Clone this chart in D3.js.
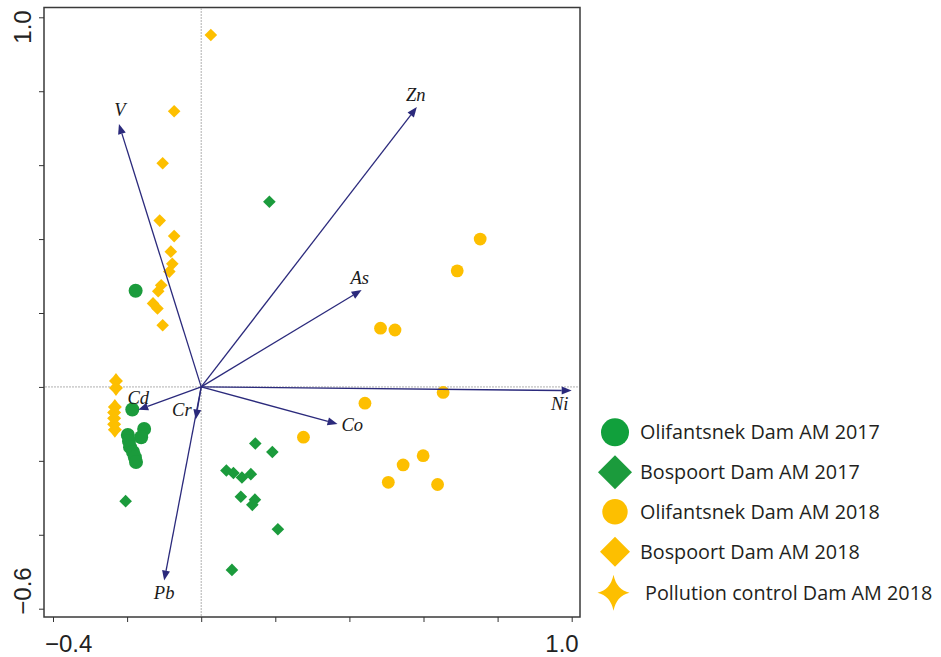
<!DOCTYPE html>
<html>
<head>
<meta charset="utf-8">
<script src="https://cdn.jsdelivr.net/npm/d3@7/dist/d3.min.js"></script>
<style>
  body { margin: 0; background: #fff; }
  svg { display: block; }
</style>
</head>
<body>
<svg id="chart" width="941" height="657"></svg>
<script>
// sample scores
var olif2017 = [[-0.177,0.260],[-0.186,-0.061],[-0.154,-0.114],[-0.162,-0.136],[-0.198,-0.130],
  [-0.195,-0.146],[-0.192,-0.163],[-0.184,-0.176],[-0.179,-0.190],[-0.176,-0.203]];
var bosp2017 = [[0.184,0.501],[0.146,-0.153],[0.192,-0.176],[0.068,-0.226],[0.087,-0.233],
  [0.110,-0.245],[0.134,-0.236],[0.107,-0.297],[0.145,-0.305],[0.138,-0.319],[0.207,-0.385],
  [0.083,-0.495],[-0.204,-0.309]];
var olif2018 = [[0.753,0.400],[0.691,0.314],[0.484,0.159],[0.523,0.154],[0.653,-0.015],
  [0.442,-0.044],[0.276,-0.136],[0.599,-0.186],[0.545,-0.211],[0.505,-0.258],[0.638,-0.264]];
var bosp2018 = [[0.026,0.952],[-0.073,0.746],[-0.104,0.605],[-0.112,0.450],[-0.073,0.408],
  [-0.082,0.366],[-0.078,0.333],[-0.086,0.312],[-0.108,0.275],[-0.116,0.259],[-0.130,0.226],
  [-0.118,0.212],[-0.104,0.167]];
var pollution2018 = [[-0.230,0.016],[-0.230,-0.003],[-0.233,-0.054],[-0.235,-0.069],
  [-0.235,-0.085],[-0.235,-0.101],[-0.233,-0.116]];

// element vectors
var vecNames = ["V","Zn","As","Ni","Co","Cd","Cr","Pb"];
var vecX = [-0.222, 0.582, 0.433, 1.000, 0.368, -0.170, -0.015, -0.100];
var vecY = [0.711, 0.757, 0.262, -0.010, -0.100, -0.062, -0.088, -0.524];

var xTicks = [-0.4,-0.2,0,0.2,0.4,0.6,0.8,1.0];
var yTicks = [-0.6,-0.4,-0.2,0,0.2,0.4,0.6,0.8,1.0];

var legendNames = ["Olifantsnek Dam AM 2017","Bospoort Dam AM 2017","Olifantsnek Dam AM 2018",
  "Bospoort Dam AM 2018","Pollution control Dam AM 2018"];

var green = "#1b9b3c", gold = "#fdbf00", navy = "#2b2a7c";

var svg = d3.select("#chart");
var x = d3.scaleLinear().domain([-0.4, 1.0]).range([53, 571.7]);
var y = d3.scaleLinear().domain([-0.6, 1.0]).range([608.7, 17.3]);

// frame
svg.append("rect").attr("x", 44).attr("y", 7.5).attr("width", 536).attr("height", 609.5)
  .attr("fill", "none").attr("stroke", "#3a3a3a").attr("stroke-width", 1.5);

// axes (ticks only, outer labels)
var xAxis = d3.axisBottom(x).tickValues(xTicks).tickSize(5).tickFormat("");
svg.append("g").attr("transform", "translate(0,617)").call(xAxis)
  .call(g => g.select(".domain").remove())
  .selectAll("line").attr("stroke", "#333");
var yAxis = d3.axisLeft(y).tickValues(yTicks).tickSize(5).tickFormat("");
svg.append("g").attr("transform", "translate(44,0)").call(yAxis)
  .call(g => g.select(".domain").remove())
  .selectAll("line").attr("stroke", "#333");

var tickFont = "'Liberation Sans', Arial, sans-serif";
svg.append("text").attr("x", x(-0.4) - 8).attr("y", 652).attr("font-family", tickFont)
  .attr("font-size", 24).attr("fill", "#222").text("\u22120.4");
svg.append("text").attr("x", x(1.0) + 7).attr("y", 652).attr("text-anchor", "end")
  .attr("font-family", tickFont).attr("font-size", 24).attr("fill", "#222").text("1.0");
svg.append("text").attr("transform", "translate(31," + (y(1.0) - 7) + ") rotate(-90)")
  .attr("text-anchor", "end").attr("font-family", tickFont).attr("font-size", 24)
  .attr("fill", "#222").text("1.0");
svg.append("text").attr("transform", "translate(31," + (y(-0.6) + 6) + ") rotate(-90)")
  .attr("text-anchor", "start").attr("font-family", tickFont).attr("font-size", 24)
  .attr("fill", "#222").text("\u22120.6");

// zero reference lines
svg.append("line").attr("x1", x(0)).attr("x2", x(0)).attr("y1", 8).attr("y2", 616)
  .attr("stroke", "#b0b0b0").attr("stroke-width", 1).attr("stroke-dasharray", "2,1");
svg.append("line").attr("x1", 45).attr("x2", 579).attr("y1", y(0)).attr("y2", y(0))
  .attr("stroke", "#b0b0b0").attr("stroke-width", 1).attr("stroke-dasharray", "2,1");

// symbols
function diamondPath(r) {
  return "M0," + (-r) + "L" + r + ",0L0," + r + "L" + (-r) + ",0Z";
}
function starPath(R, ry, w) {
  return "M0," + (-ry) + "Q" + w + "," + (-w) + " " + R + ",0Q" + w + "," + w + " 0," + ry +
    "Q" + (-w) + "," + w + " " + (-R) + ",0Q" + (-w) + "," + (-w) + " 0," + (-ry) + "Z";
}

var pts = svg.append("g");
pts.selectAll(".o17").data(olif2017).enter().append("circle")
  .attr("cx", d => x(d[0])).attr("cy", d => y(d[1])).attr("r", 7).attr("fill", green);
pts.selectAll(".b17").data(bosp2017).enter().append("path")
  .attr("d", diamondPath(6.3)).attr("fill", green)
  .attr("transform", d => "translate(" + x(d[0]) + "," + y(d[1]) + ")");
pts.selectAll(".o18").data(olif2018).enter().append("circle")
  .attr("cx", d => x(d[0])).attr("cy", d => y(d[1])).attr("r", 6.4).attr("fill", gold);
pts.selectAll(".b18").data(bosp2018).enter().append("path")
  .attr("d", diamondPath(6.3)).attr("fill", gold)
  .attr("transform", d => "translate(" + x(d[0]) + "," + y(d[1]) + ")");
pts.selectAll(".p18").data(pollution2018).enter().append("path")
  .attr("d", starPath(7, 8, 3.2)).attr("fill", gold)
  .attr("transform", d => "translate(" + x(d[0]) + "," + y(d[1]) + ")");

// arrows
var vecs = vecNames.map((n, i) => ({name: n, x: vecX[i], y: vecY[i]}));
var labelOff = {V:[1,-8,"middle"], Zn:[-1,-6,"middle"], As:[-2,-6,"middle"], Ni:[-12,19,"middle"],
  Co:[4,7,"start"], Cd:[0,-6,"middle"], Cr:[-4,-3,"end"], Pb:[0,18,"middle"]};
var ag = svg.append("g");
vecs.forEach(function(v) {
  var x0 = x(0), y0 = y(0), x1 = x(v.x), y1 = y(v.y);
  var a = Math.atan2(y1 - y0, x1 - x0), L = 10, W = 4;
  var bx = x1 - L * Math.cos(a), by = y1 - L * Math.sin(a);
  ag.append("line").attr("x1", x0).attr("y1", y0).attr("x2", bx).attr("y2", by)
    .attr("stroke", navy).attr("stroke-width", 1.3);
  ag.append("path").attr("fill", navy)
    .attr("d", "M" + x1 + "," + y1 + "L" + (bx + W * Math.sin(a)) + "," + (by - W * Math.cos(a)) +
      "L" + (bx - W * Math.sin(a)) + "," + (by + W * Math.cos(a)) + "Z");
  var o = labelOff[v.name];
  ag.append("text").attr("x", x1 + o[0]).attr("y", y1 + o[1]).attr("text-anchor", o[2])
    .attr("font-family", "'Liberation Serif', 'Times New Roman', serif").attr("font-style", "italic")
    .attr("font-size", 18.5).attr("fill", "#1a1a1a").text(v.name);
});

// legend
var lg = svg.append("g");
var legY = [432.3, 472.3, 511.7, 551.7, 592.7];
var legShapes = [
  g => g.append("circle").attr("r", 14).attr("fill", "#11a03c"),
  g => g.append("path").attr("d", diamondPath(17)).attr("fill", green),
  g => g.append("circle").attr("r", 12.7).attr("fill", gold),
  g => g.append("path").attr("d", diamondPath(15)).attr("fill", gold),
  g => g.append("path").attr("d", starPath(16, 18, 3)).attr("fill", gold)
];
legendNames.forEach(function(n, i) {
  var g = lg.append("g").attr("transform", "translate(" + (i === 4 ? 613.5 : 615) + "," + legY[i] + ")");
  legShapes[i](g);
  lg.append("text").attr("x", i === 4 ? 645 : 640).attr("y", legY[i] + 7)
    .attr("font-family", "'Open Sans', 'Noto Sans', sans-serif").attr("font-size", 19.8)
    .attr("fill", "#231f20").text(n);
});
</script>
</body>
</html>
